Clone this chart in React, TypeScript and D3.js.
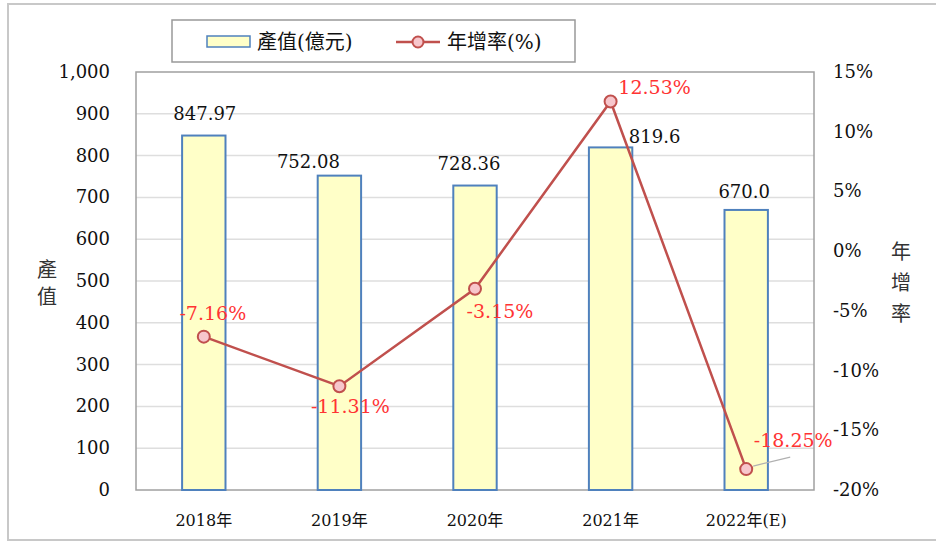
import * as d3 from "d3";

const years = ["2018年", "2019年", "2020年", "2021年", "2022年(E)"];
const outputValues = [847.97, 752.08, 728.36, 819.6, 670.0];
const outputLabels = ["847.97", "752.08", "728.36", "819.6", "670.0"];
const growthRates = [-7.16, -11.31, -3.15, 12.53, -18.25];
const growthLabels = ["-7.16%", "-11.31%", "-3.15%", "12.53%", "-18.25%"];
const leftTicks = [0, 100, 200, 300, 400, 500, 600, 700, 800, 900, 1000];
const rightTicks = [15, 10, 5, 0, -5, -10, -15, -20];

// label nudges (pixels) as laid out in the source chart
const barLabelShift = [[1, -16], [-31, -8], [-6, -16], [44, -4], [-2, -12]];
const rateLabelShift = [[9, -17], [11, 27], [25, 29], [44, -7], [47, -22]];

const W = 936;
const H = 541;
const plot = { left: 136, right: 814, top: 72, bottom: 490 };

const serif = "'DejaVu Serif', 'Noto Sans CJK TC', serif";
const cjk = "'Noto Sans CJK TC', sans-serif";

export default function App() {
  const x = d3.scaleBand().domain(years).range([plot.left, plot.right]).paddingInner(0.68).paddingOuter(0.34);
  const yL = d3.scaleLinear().domain([0, 1000]).range([plot.bottom, plot.top]);
  const yR = d3.scaleLinear().domain([-20, 15]).range([plot.bottom, plot.top]);
  const cx = (i: number) => (x(years[i]) as number) + x.bandwidth() / 2;

  const line = d3.line<number>().x((_, i) => cx(i)).y((d) => yR(d));

  const last = growthRates.length - 1;

  return (
    <svg width={W} height={H} style={{ position: "absolute", left: 0, top: 0, background: "#fff" }}>
      <rect x={8} y={4} width={940} height={536} fill="#fff" stroke="#c8c8c8" strokeWidth={2} />

      {/* grid */}
      {leftTicks.slice(1, -1).map((t) => (
        <line key={t} x1={plot.left} x2={plot.right} y1={yL(t)} y2={yL(t)} stroke="#dedede" strokeWidth={1.5} />
      ))}
      <rect x={plot.left} y={plot.top} width={plot.right - plot.left} height={plot.bottom - plot.top}
        fill="none" stroke="#a0a0a0" strokeWidth={1.5} />

      {/* bars */}
      {outputValues.map((v, i) => (
        <rect key={i} x={x(years[i])} y={yL(v)} width={x.bandwidth()} height={plot.bottom - yL(v)}
          fill="#ffffc8" stroke="#4f81bd" strokeWidth={2} />
      ))}
      {outputValues.map((v, i) => (
        <text key={i} x={cx(i) + barLabelShift[i][0]} y={yL(v) + barLabelShift[i][1]} textAnchor="middle"
          fontFamily={serif} fontSize={18} fill="#111">{outputLabels[i]}</text>
      ))}

      {/* leader line for last label */}
      <line x1={cx(last) + 7} y1={yR(growthRates[last]) - 3} x2={cx(last) + 44} y2={yR(growthRates[last]) - 12}
        stroke="#b0b0b0" strokeWidth={1.2} />

      {/* growth line */}
      <path d={line(growthRates) || ""} fill="none" stroke="#c0504d" strokeWidth={2.5} />
      {growthRates.map((v, i) => (
        <circle key={i} cx={cx(i)} cy={yR(v)} r={6} fill="#f7c6cc" stroke="#c0504d" strokeWidth={2} />
      ))}
      {growthRates.map((v, i) => (
        <text key={i} x={cx(i) + rateLabelShift[i][0]} y={yR(v) + rateLabelShift[i][1]} textAnchor="middle"
          fontFamily={serif} fontSize={19} fill="#ff3333">{growthLabels[i]}</text>
      ))}

      {/* left axis */}
      {leftTicks.map((t) => (
        <text key={t} x={110} y={yL(t) + 6} textAnchor="end" fontFamily={serif} fontSize={18} fill="#111">
          {d3.format(",")(t)}
        </text>
      ))}
      <text x={47} y={277} textAnchor="middle" fontFamily={cjk} fontSize={20} fill="#333">產</text>
      <text x={47} y={304} textAnchor="middle" fontFamily={cjk} fontSize={20} fill="#333">值</text>

      {/* right axis */}
      {rightTicks.map((t) => (
        <text key={t} x={833} y={yR(t) + 6} textAnchor="start" fontFamily={serif} fontSize={18} fill="#111">
          {t}%
        </text>
      ))}
      {["年", "增", "率"].map((c, i) => (
        <text key={c} x={901} y={259 + i * 31} textAnchor="middle" fontFamily={cjk} fontSize={20} fill="#333">{c}</text>
      ))}

      {/* x labels */}
      {years.map((yr, i) => (
        <text key={yr} x={cx(i)} y={526} textAnchor="middle" fontFamily={serif} fontSize={16} fill="#111">{yr}</text>
      ))}

      {/* legend */}
      <rect x={172} y={20} width={403} height={42} fill="#fff" stroke="#999" strokeWidth={1.5} />
      <rect x={207} y={36} width={43} height={11} fill="#ffffc8" stroke="#4f81bd" strokeWidth={1.5} />
      <text x={257} y={49} fontFamily={serif} fontSize={20} fill="#111">產值(億元)</text>
      <line x1={396} x2={440} y1={42} y2={42} stroke="#c0504d" strokeWidth={2.5} />
      <circle cx={418} cy={42} r={5.5} fill="#f7c6cc" stroke="#c0504d" strokeWidth={2} />
      <text x={447} y={49} fontFamily={serif} fontSize={20} fill="#111">年增率(%)</text>
    </svg>
  );
}
